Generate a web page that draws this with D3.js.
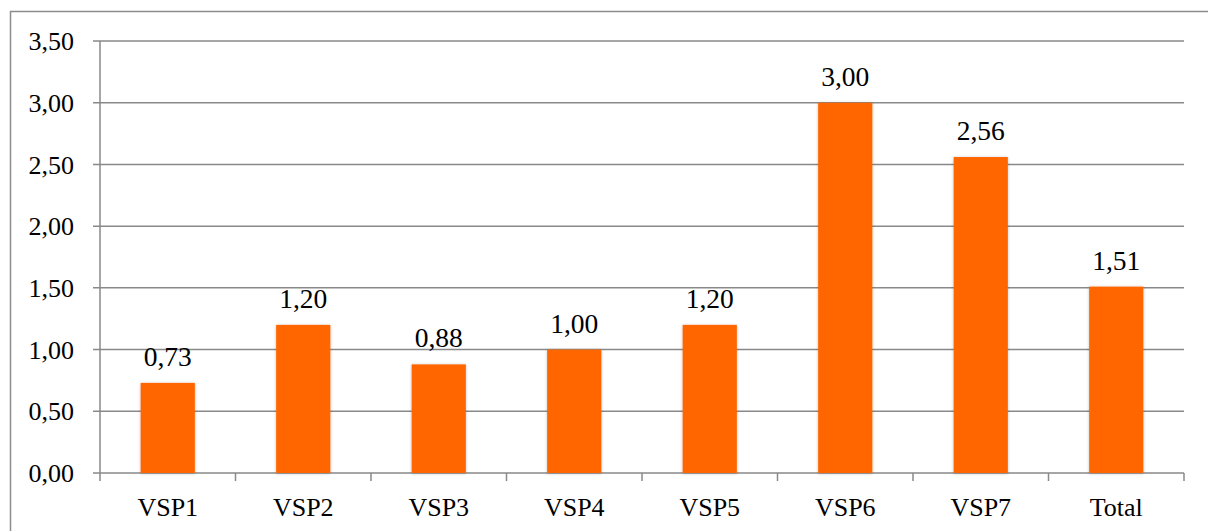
<!DOCTYPE html>
<html>
<head>
<meta charset="utf-8">
<script src="https://cdn.jsdelivr.net/npm/d3@7"></script>
<style>
  body { margin: 0; background: #fff; }
  svg { display: block; }
  text { font-family: "Liberation Serif", "DejaVu Serif", serif; fill: #000; }
</style>
</head>
<body>
<div id="chartArea"></div>
<script>
const categories = ["VSP1", "VSP2", "VSP3", "VSP4", "VSP5", "VSP6", "VSP7", "Total"];
const values = [0.73, 1.20, 0.88, 1.00, 1.20, 3.00, 2.56, 1.51];
const yTicks = [0, 0.5, 1, 1.5, 2, 2.5, 3, 3.5];

const W = 1208, H = 531;
const margin = {top: 41, right: 24, bottom: 58, left: 100},
      width = W - margin.left - margin.right,
      height = H - margin.top - margin.bottom;

const fmt = v => d3.format(".2f")(v).replace(".", ",");
const gridColor = "#898989";

const svg = d3.select("#chartArea")
  .append("svg")
  .attr("width", W)
  .attr("height", H);

// soft shadow on the bars
const defs = svg.append("defs");
const f = defs.append("filter").attr("id", "shadow")
  .attr("x", "-20%").attr("y", "-20%").attr("width", "140%").attr("height", "140%");
f.append("feDropShadow").attr("dx", 0).attr("dy", 0.5)
  .attr("stdDeviation", 1.5).attr("flood-color", "#000").attr("flood-opacity", 0.25);

// outer chart border
svg.append("rect")
  .attr("x", 10.5).attr("y", 11.5)
  .attr("width", W + 20).attr("height", H + 20)
  .attr("fill", "none")
  .attr("stroke", "#8c8c8c")
  .attr("stroke-width", 1.5);

const g = svg.append("g")
  .attr("transform", "translate(" + margin.left + "," + margin.top + ")");

const x = d3.scaleBand()
  .domain(categories)
  .range([0, width])
  .paddingInner(0.6)
  .paddingOuter(0.3);

const xOuter = d3.scaleBand().domain(categories).range([0, width]);

const y = d3.scaleLinear()
  .domain([0, 3.5])
  .range([height, 0]);

// gridlines + y ticks
g.selectAll(".grid")
  .data(yTicks)
  .enter()
  .append("line")
  .attr("x1", -7)
  .attr("x2", width)
  .attr("y1", d => y(d))
  .attr("y2", d => y(d))
  .attr("stroke", gridColor)
  .attr("stroke-width", 1.5);

g.selectAll(".ylab")
  .data(yTicks)
  .enter()
  .append("text")
  .attr("x", -26)
  .attr("y", d => y(d))
  .attr("dy", "0.35em")
  .attr("text-anchor", "end")
  .style("font-size", "26px")
  .text(d => fmt(d));

// y axis line
g.append("line")
  .attr("x1", 0).attr("x2", 0)
  .attr("y1", 0).attr("y2", height + 8)
  .attr("stroke", gridColor)
  .attr("stroke-width", 1.5);

// x axis category ticks
const bounds = categories.map(c => xOuter(c) + xOuter.bandwidth());
g.selectAll(".xtick")
  .data(bounds)
  .enter()
  .append("line")
  .attr("x1", d => d).attr("x2", d => d)
  .attr("y1", height).attr("y2", height + 8)
  .attr("stroke", gridColor)
  .attr("stroke-width", 1.5);

// bars
g.selectAll(".bar")
  .data(values)
  .enter()
  .append("rect")
  .attr("x", (d, i) => x(categories[i]))
  .attr("y", d => y(d))
  .attr("width", x.bandwidth())
  .attr("height", d => height - y(d))
  .attr("fill", "#ff6600")
  .attr("filter", "url(#shadow)");

// value labels
g.selectAll(".vlab")
  .data(values)
  .enter()
  .append("text")
  .attr("x", (d, i) => x(categories[i]) + x.bandwidth() / 2)
  .attr("y", d => y(d) - 17)
  .attr("text-anchor", "middle")
  .style("font-size", "27.5px")
  .text(d => fmt(d));

// category labels
g.selectAll(".xlab")
  .data(categories)
  .enter()
  .append("text")
  .attr("x", d => xOuter(d) + xOuter.bandwidth() / 2)
  .attr("y", height + 43)
  .attr("text-anchor", "middle")
  .style("font-size", "26px")
  .text(d => d);
</script>
</body>
</html>
